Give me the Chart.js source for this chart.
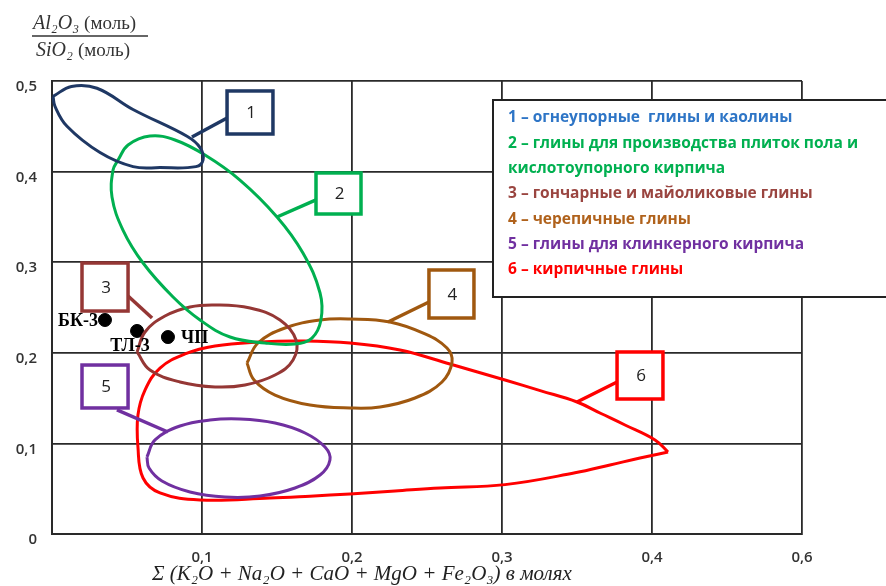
<!DOCTYPE html>
<html><head><meta charset="utf-8">
<script src="https://cdn.jsdelivr.net/npm/chart.js@4/dist/chart.umd.min.js"></script>
<style>html,body{margin:0;padding:0;background:#fff;}canvas{display:block;}</style>
</head><body>
<canvas id="c" width="886" height="586"></canvas>
<script>
// ---- tick labels ----
const xTickLabels = ['', '0,1', '0,2', '0,3', '0,4', '0,6'];
const yTickLabels = ['0', '0,1', '0,2', '0,3', '0,4', '0,5'];

// ---- region outlines (x = sum of oxides, y = Al2O3/SiO2) ----
const region1 = [[0.0007,0.483],[0.013,0.494],[0.030,0.492],[0.054,0.4685],[0.090,0.439],[0.0987,0.4265],[0.1007,0.413],[0.096,0.4055],[0.072,0.4044],[0.054,0.4055],[0.032,0.421],[0.010,0.450],[0.002,0.472],[0.0007,0.483]];
const region2 = [[0.044,0.4128],[0.0507,0.4294],[0.0653,0.4393],[0.082,0.4349],[0.102,0.4183],[0.1253,0.3907],[0.150,0.350],[0.1673,0.3102],[0.1787,0.266],[0.1793,0.2362],[0.1733,0.2163],[0.162,0.2097],[0.142,0.2108],[0.1187,0.2174],[0.0987,0.2362],[0.0807,0.2616],[0.0607,0.2991],[0.0473,0.3355],[0.040,0.372],[0.0407,0.4018],[0.044,0.4128]];
const region3 = [[0.0567,0.2009],[0.062,0.223],[0.0753,0.2406],[0.092,0.2506],[0.1087,0.2528],[0.132,0.2494],[0.152,0.2362],[0.1627,0.2141],[0.1607,0.192],[0.1487,0.1755],[0.1287,0.1645],[0.1087,0.1623],[0.0853,0.1678],[0.0653,0.181],[0.0567,0.2009]];
const region4 = [[0.130,0.1887],[0.1373,0.2108],[0.1553,0.2274],[0.1787,0.2362],[0.1987,0.2373],[0.2253,0.234],[0.2487,0.2208],[0.2633,0.2053],[0.2667,0.1898],[0.260,0.1678],[0.242,0.1501],[0.2187,0.1402],[0.1987,0.1391],[0.172,0.1424],[0.1487,0.1534],[0.1347,0.170],[0.130,0.1887]];
const region5 = [[0.0633,0.085],[0.0687,0.1038],[0.0853,0.1192],[0.1053,0.1258],[0.1253,0.1269],[0.1487,0.1225],[0.1687,0.1115],[0.182,0.096],[0.1853,0.0817],[0.1787,0.0651],[0.162,0.0508],[0.1387,0.0419],[0.1153,0.0408],[0.092,0.0464],[0.0733,0.0585],[0.0647,0.0728],[0.0633,0.085]];
const region6 = [[0.4107,0.0905],[0.402,0.1038],[0.382,0.1203],[0.366,0.133],[0.350,0.1457],[0.326,0.158],[0.302,0.170],[0.2653,0.1876],[0.232,0.2031],[0.1987,0.2108],[0.1653,0.213],[0.1387,0.2119],[0.1087,0.2075],[0.0887,0.1987],[0.072,0.1832],[0.062,0.1589],[0.0573,0.1313],[0.0573,0.096],[0.0607,0.0618],[0.072,0.0453],[0.0987,0.0375],[0.1453,0.0397],[0.172,0.0418],[0.1987,0.0442],[0.2287,0.0475],[0.2587,0.0508],[0.302,0.0545],[0.3487,0.0675],[0.372,0.0762],[0.392,0.0839],[0.4107,0.0905]];

// ---- sample points ----
const sampleNames = ['БК-3', 'ТЛ-3', 'ЧП'];
const sampleX = [0.0353, 0.0567, 0.0773];
const sampleY = [0.2362, 0.2241, 0.2174];

// ---- callouts ----
const calloutNumbers = ['1', '2', '3', '4', '5', '6'];
const calloutBoxes = [[0.1167,0.4415,0.1473,0.489],[0.176,0.3532,0.206,0.3985],[0.020,0.2461,0.0507,0.2991],[0.2513,0.2384,0.2813,0.2914],[0.020,0.1391,0.0507,0.1865],[0.3767,0.149,0.4073,0.2009]];
const calloutLeaders = [[0.1167,0.4592,0.0933,0.4382],[0.176,0.3687,0.150,0.3499],[0.0507,0.2627,0.0667,0.2384],[0.2513,0.2561,0.224,0.234],[0.0433,0.1369,0.0773,0.1126],[0.3767,0.1678,0.350,0.1457]];

// ---- legend ----
const legendTexts = ['1 – огнеупорные  глины и каолины', '2 – глины для производства плиток пола и', 'кислотоупорного кирпича', '3 – гончарные и майоликовые глины', '4 – черепичные глины', '5 – глины для клинкерного кирпича', '6 – кирпичные глины'];
const legendColorIdx = [0, 1, 1, 2, 3, 4, 5];

const regionColors = ['#1f3864', '#00b050', '#953735', '#a0580f', '#7030a0', '#ff0000'];
const legendColors = ['#2e75c6', '#00b050', '#9a4540', '#b0621c', '#7030a0', '#ff0000'];

const regions = [region1, region2, region3, region4, region5, region6];
const datasets = regions.map((r, i) => ({
  label: 'region' + (i + 1),
  data: r.map(p => ({x: p[0], y: p[1]})),
  showLine: true, fill: false, pointRadius: 0, pointHoverRadius: 0,
  borderColor: regionColors[i], borderWidth: 3, tension: 0.4, clip: false
}));
datasets.push({
  label: 'samples',
  data: sampleX.map((x, i) => ({x, y: sampleY[i]})),
  showLine: false, pointRadius: 6.5, pointBackgroundColor: '#000', pointBorderColor: '#000', clip: false
});

const GRID = '#2a2a2a';
const tickFont = {family: 'Open Sans', size: 15, weight: '600'};

const overlay = {
  id: 'overlay',
  afterDatasetsDraw(chart) {
    const ctx = chart.ctx, xs = chart.scales.x, ys = chart.scales.y;
    const X = v => xs.getPixelForValue(v), Y = v => ys.getPixelForValue(v);
    ctx.save();
    // callouts
    calloutBoxes.forEach((b, i) => {
      const col = regionColors[i];
      const L = calloutLeaders[i];
      ctx.strokeStyle = col; ctx.lineWidth = 3.5; ctx.lineCap = 'butt';
      ctx.beginPath(); ctx.moveTo(X(L[0]), Y(L[1])); ctx.lineTo(X(L[2]), Y(L[3])); ctx.stroke();
      const x0 = X(b[0]), x1 = X(b[2]), y0 = Y(b[3]), y1 = Y(b[1]);
      ctx.fillStyle = '#fff';
      ctx.fillRect(x0, y0, x1 - x0, y1 - y0);
      ctx.strokeRect(x0, y0, x1 - x0, y1 - y0);
      ctx.fillStyle = '#222';
      ctx.font = '17px "Open Sans"';
      ctx.textAlign = 'center'; ctx.textBaseline = 'middle';
      ctx.fillText(calloutNumbers[i], (x0 + x1) / 2 + 1, (y0 + y1) / 2 + 1);
    });
    // sample labels
    ctx.fillStyle = '#000';
    ctx.font = 'bold 18px "Liberation Serif"';
    ctx.textBaseline = 'middle';
    sampleNames.forEach((n, i) => {
      const px = X(sampleX[i]), py = Y(sampleY[i]);
      if (i === 0) { ctx.textAlign = 'right'; ctx.fillText(n, px - 7, py + 1); }
      else if (i === 1) { ctx.textAlign = 'center'; ctx.fillText(n, px - 7, py + 15); }
      else { ctx.textAlign = 'left'; ctx.fillText(n, px + 13, py + 1); }
    });
    ctx.restore();
  },
  afterDraw(chart) {
    const ctx = chart.ctx;
    ctx.save();
    // legend box
    ctx.fillStyle = '#fff';
    ctx.fillRect(493, 100, 400, 197);
    ctx.strokeStyle = '#222'; ctx.lineWidth = 2;
    ctx.strokeRect(493, 100, 400, 197);
    ctx.font = 'bold 15.5px "Open Sans"';
    ctx.textAlign = 'left'; ctx.textBaseline = 'middle';
    legendTexts.forEach((t, i) => {
      ctx.fillStyle = legendColors[legendColorIdx[i]];
      ctx.fillText(t, 508, 118 + i * 25.3);
    });
    // y axis title (fraction)
    ctx.fillStyle = '#333';
    ctx.textBaseline = 'alphabetic';
    ctx.font = 'italic 20px "Liberation Serif"';
    ctx.fillText('Al₂O₃', 33, 29);
    let w = ctx.measureText('Al₂O₃ ').width;
    ctx.font = '19px "Liberation Serif"';
    ctx.fillText('(моль)', 33 + w, 29);
    ctx.font = 'italic 20px "Liberation Serif"';
    ctx.fillText('SiO₂', 36, 56);
    w = ctx.measureText('SiO₂ ').width;
    ctx.font = '19px "Liberation Serif"';
    ctx.fillText('(моль)', 36 + w, 56);
    ctx.strokeStyle = '#333'; ctx.lineWidth = 1.5;
    ctx.beginPath(); ctx.moveTo(32, 36); ctx.lineTo(148, 36); ctx.stroke();
    // x axis title
    ctx.fillStyle = '#222';
    ctx.font = 'italic 21px "Liberation Serif"';
    ctx.fillText('Σ (K₂O + Na₂O + CaO + MgO + Fe₂O₃) в молях', 152, 580);
    ctx.restore();
  }
};

new Chart(document.getElementById('c'), {
  type: 'scatter',
  data: {datasets},
  options: {
    responsive: false, animation: false, devicePixelRatio: 1,
    layout: {padding: {top: 81, right: 84, left: 0, bottom: 0}},
    plugins: {legend: {display: false}, tooltip: {enabled: false}},
    scales: {
      x: {
        type: 'linear', min: 0, max: 0.5,
        afterFit: s => { s.height = 52; },
        grid: {color: GRID, lineWidth: 1.8, drawTicks: false},
        border: {display: true, color: GRID, width: 2},
        ticks: {stepSize: 0.1, padding: 15, color: '#333', font: tickFont,
          callback: (v) => xTickLabels[Math.round(v * 10)]}
      },
      y: {
        type: 'linear', min: 0, max: 0.5,
        afterFit: s => { s.width = 52; },
        grid: {color: GRID, lineWidth: 1.8, drawTicks: false},
        border: {display: true, color: GRID, width: 2},
        ticks: {stepSize: 0.1, padding: 15, labelOffset: 6, color: '#333', font: tickFont,
          callback: (v) => yTickLabels[Math.round(v * 10)]}
      }
    }
  },
  plugins: [overlay]
});
</script>
</body></html>
